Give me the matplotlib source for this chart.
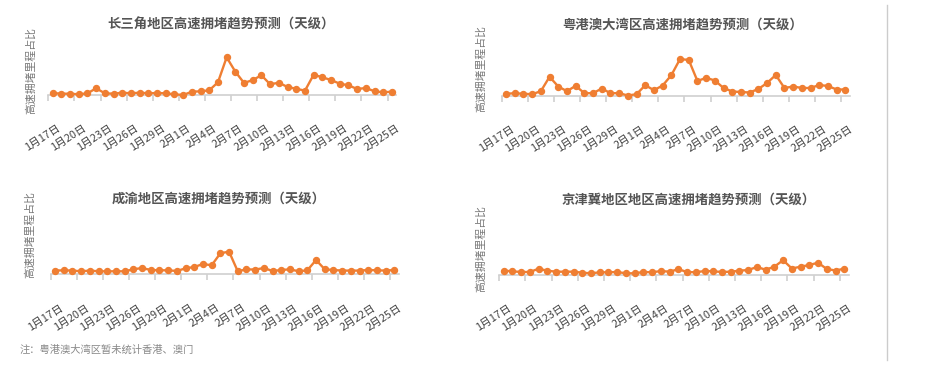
import matplotlib
matplotlib.use("Agg")
import matplotlib.pyplot as plt
from matplotlib.transforms import ScaledTranslation, blended_transform_factory

plt.rcParams['font.family'] = ['Noto Sans CJK SC', 'DejaVu Sans']

# 日期：1月17日 - 2月25日，每天一个点
dates = [f'1月{d}日' for d in range(17, 32)] + [f'2月{d}日' for d in range(1, 26)]

# 各区域拥堵里程占比（相对值，从图上读出）
csj = [2, 1.3, 1.3, 0.7, 1.7, 6.7, 1.7, 1.3, 2.3, 1.7,
       2.3, 1.7, 2, 1.7, 0.7, 0, 3.3, 3.7, 4.7, 12.7,
       37.7, 23.3, 12, 15, 19.7, 10.7, 12.3, 8, 6.3, 4.3,
       20.3, 17.7, 15, 11.3, 9.7, 6, 7, 3.7, 2.7, 3.3]
ygadwq = [1.7, 2.3, 1.7, 1.3, 4.3, 18.7, 9, 4.3, 9.7, 2.3,
          2.3, 7, 2.3, 2.3, 0, 1.3, 10.3, 5.3, 10, 20.3,
          36.5, 35.5, 14.5, 17.7, 15, 7.5, 4, 3.5, 3, 6.5,
          12.5, 20.5, 7.5, 9, 7.5, 7.5, 10.5, 9.5, 6, 6]
cy = [3.7, 4, 3.7, 3, 3.7, 3, 3, 3, 3, 5,
      6.3, 4.3, 4, 4, 3.3, 6, 7.3, 10.3, 9, 21,
      22.7, 3, 5, 4.7, 6.3, 3.3, 4.3, 5, 3, 4,
      14.3, 5, 4.3, 3.7, 3.7, 3.7, 4.3, 4, 3.7, 4.3]
jjj = [4.3, 3.7, 3, 3, 6.3, 4.3, 3.3, 3.3, 3.3, 2.3,
       1.7, 2.7, 2.7, 3, 1.7, 1.7, 3, 2.7, 4, 3.3,
       5.8, 3, 2.7, 4, 3.7, 3, 3.3, 4.3, 5, 8,
       5.3, 8.3, 14.8, 6.5, 8.3, 10, 12.3, 6, 4.5, 6.3]

titles = ['长三角地区高速拥堵趋势预测（天级）', '粤港澳大湾区高速拥堵趋势预测（天级）',
          '成渝地区高速拥堵趋势预测（天级）', '京津冀地区地区高速拥堵趋势预测（天级）']
series = [csj, ygadwq, cy, jjj]

W, H = 925, 366
fig = plt.figure(figsize=(W / 100, H / 100), dpi=100)

# 每个子图：x起点, x终点, 基线y, 标题中心x, 标题y, y轴标签位置
boxes = [
    (48.3, 396.3, 95, 221, 25, 31, 70),
    (501.7, 849.7, 95.5, 683, 25, 481, 69),
    (50.7, 398.7, 274.3, 219, 199, 30, 235),
    (499.3, 848.6, 275, 689, 200, 481, 248),
]
plot_h = 62
orange = '#EF7E32'
n = len(dates)

for (x0, x1, yb, tx, ty, lx, ly), vals, title in zip(boxes, series, titles):
    ax = fig.add_axes([x0 / W, 1 - yb / H, (x1 - x0) / W, plot_h / H])
    ax.plot(range(n), vals, color=orange, lw=1.7, marker='o', ms=4.3, mec=orange,
            clip_on=False, zorder=3)
    ax.set_xlim(-0.5, n - 0.5)
    ax.set_ylim(0, plot_h)
    for s in ['top', 'right', 'left']:
        ax.spines[s].set_visible(False)
    ax.spines['bottom'].set_color('#d0d0d0')
    ax.spines['bottom'].set_linewidth(1.2)
    ax.set_yticks([])
    ax.set_xticks([i - 0.5 for i in range(0, n, 3)])
    ax.set_xticklabels([])
    ax.tick_params(axis='x', length=4, width=1.2, color='#d0d0d0')
    trans = blended_transform_factory(ax.transData, ax.transAxes) + \
        ScaledTranslation(4 / 100, -28 / 100, fig.dpi_scale_trans)
    for i in range(0, n, 3):
        ax.text(i, 0, dates[i], transform=trans, rotation=33, rotation_mode='anchor',
                ha='right', va='top', fontsize=7.8, color='#444444')
    fig.text(tx / W, 1 - ty / H, title, ha='center', va='center', fontsize=9.6,
             fontweight='bold', color='#555555')
    fig.text(lx / W, 1 - ly / H, '高速拥堵里程占比', ha='center', va='center',
             rotation=90, fontsize=7.8, color='#777777')

fig.text(20 / W, 1 - 350 / H, '注：粤港澳大湾区暂未统计香港、澳门', ha='left', va='center',
         fontsize=7.4, color='#888888')
fig.add_artist(plt.Line2D([887 / W, 887 / W], [1 - 5 / H, 1 - 360 / H], color='#cccccc', lw=1))

fig.savefig('out.png', dpi=100)
